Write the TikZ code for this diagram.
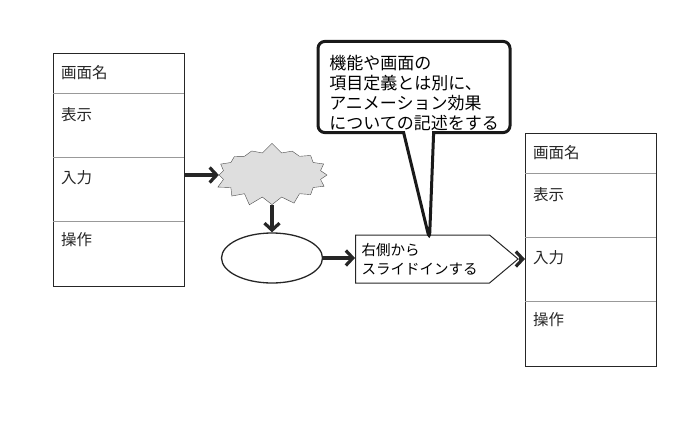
\documentclass[tikz,border=0pt]{standalone}
\usepackage{fontspec}
\setmainfont{Noto Sans CJK JP}
\usetikzlibrary{shapes.symbols, shapes.callouts, shapes.geometric, arrows.meta, positioning}

\begin{document}
\begin{tikzpicture}[x=1pt, y=-1pt,
  every node/.style={inner sep=2pt},
  screen/.style={draw=black!85, line width=1.4pt, anchor=north west,
                 minimum width=131pt, minimum height=233pt},
  divider/.style={black!40, line width=0.9pt},
  field/.style={font=\fontsize{15.5}{18}\selectfont, anchor=west, color=black!85},
  arrow/.style={-{Straight Barb[length=7pt, width=15pt]}, line width=3.2pt, black!85}]
\useasboundingbox (0,0) rectangle (700,420);

% the two screen boxes
\foreach \nm/\bx/\by in {scrA/53/53, scrB/525/133} {
  \node[screen] (\nm) at (\bx,\by) {};
  \foreach \dy in {40,104,168}
    \draw[divider] (\bx,\by+\dy) -- ++(131,0);
  \node[field] (\nm-title) at (\bx+6,\by+20) {画面名};
  \node[field] (\nm-show)  at (\bx+6,\by+62) {表示};
  \node[field] (\nm-input) at (\bx+6,\by+125) {入力};
  \node[field] (\nm-op)    at (\bx+6,\by+187) {操作};
}

\node[starburst, draw=black!70, fill=black!13, starburst points=16,
      starburst point height=10pt, random starburst=7, minimum width=119pt,
      minimum height=65pt] (burst) at (272,175) {};
\node[ellipse, draw=black!85, line width=1.3pt, minimum width=101pt,
      minimum height=50pt] (state) at (272,258) {};
\node[signal, signal to=east, signal pointer angle=80, draw=black!85,
      line width=1pt, anchor=west, minimum width=146pt, minimum height=48pt,
      inner xsep=6pt, align=left, text width=122pt,
      font=\fontsize{14.5}{19}\selectfont]
  (slide) at (355,259) {右側から\\スライドインする};

\coordinate (tip) at ([xshift=7pt, yshift=-5pt]slide.north);
\node[rectangle callout, draw=black!90, line width=3pt, rounded corners=7pt,
      minimum width=192pt, minimum height=91pt, callout absolute pointer={(tip)},
      callout pointer width=30pt, align=left, font=\fontsize{17}{20}\selectfont]
  (note) at (414,87)
  {\rule{0pt}{26pt}機能や画面の\\項目定義とは別に、\\アニメーション効果\\についての記述をする};

\draw[arrow] (scrA.east |- burst) -- (burst.west);
\draw[arrow] (burst.south) -- (state.north);
\draw[arrow] (state.east) -- (slide.west |- state.east);
\draw[arrow] (slide.east) -- (scrB.west |- slide.east);
\end{tikzpicture}
\end{document}
